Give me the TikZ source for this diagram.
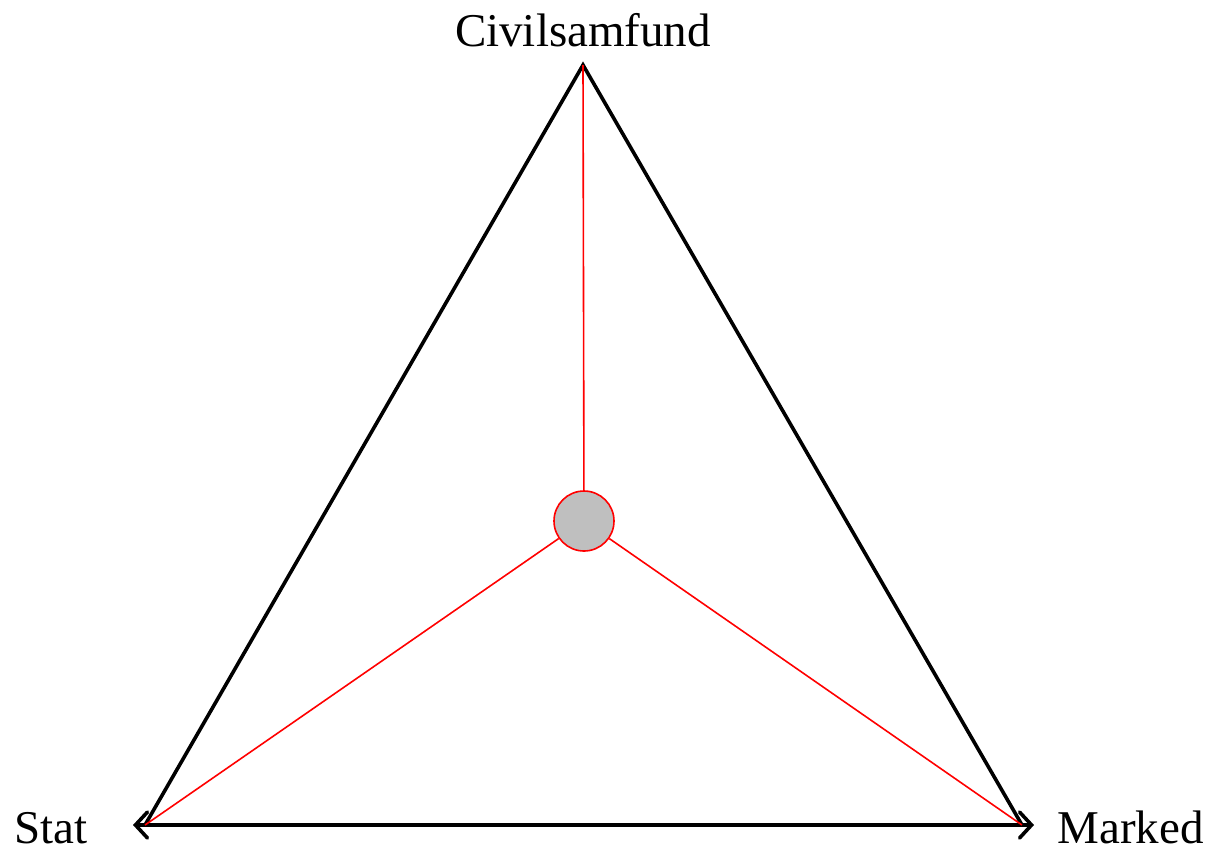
\documentclass[tikz,border=0pt]{standalone}
\usepackage{fontspec}
\setmainfont{Liberation Serif}
\usetikzlibrary{arrows.meta}
\begin{document}
\begin{tikzpicture}[x=0.5pt,y=-0.5pt,
  side/.style={line width=1.8pt, line join=miter},
  spoke/.style={red, line width=0.8pt},
  barb/.tip={Straight Barb[length=6pt,width=13pt,line cap=round]},
  lbl/.style={font=\fontsize{23.5pt}{28pt}\selectfont, inner sep=0pt},
  hub/.style={circle, draw=red, fill=black!25, line width=0.8pt, minimum size=30pt, inner sep=0pt}]
\useasboundingbox (0,0) rectangle (1215,858);
\coordinate (C) at (583,65);
\coordinate (S) at (145,825);
\coordinate (M) at (1022,825);
\coordinate (SA) at (133,825);
\coordinate (MA) at (1034,825);
\node[hub] (H) at (584,521) {};
\draw[side] (S) -- (C) -- (M);
\draw[side, barb-barb] (SA) -- (MA);
\draw[spoke] (H) -- (C);
\draw[spoke] (H) -- (S);
\draw[spoke] (H) -- (M);
\node[lbl, anchor=base] (tc) at (583,46) {Civilsamfund};
\node[lbl, anchor=base east] (ts) at (88,843) {Stat};
\node[lbl, anchor=base west] (tm) at (1057,843) {Marked};
\end{tikzpicture}
\end{document}
